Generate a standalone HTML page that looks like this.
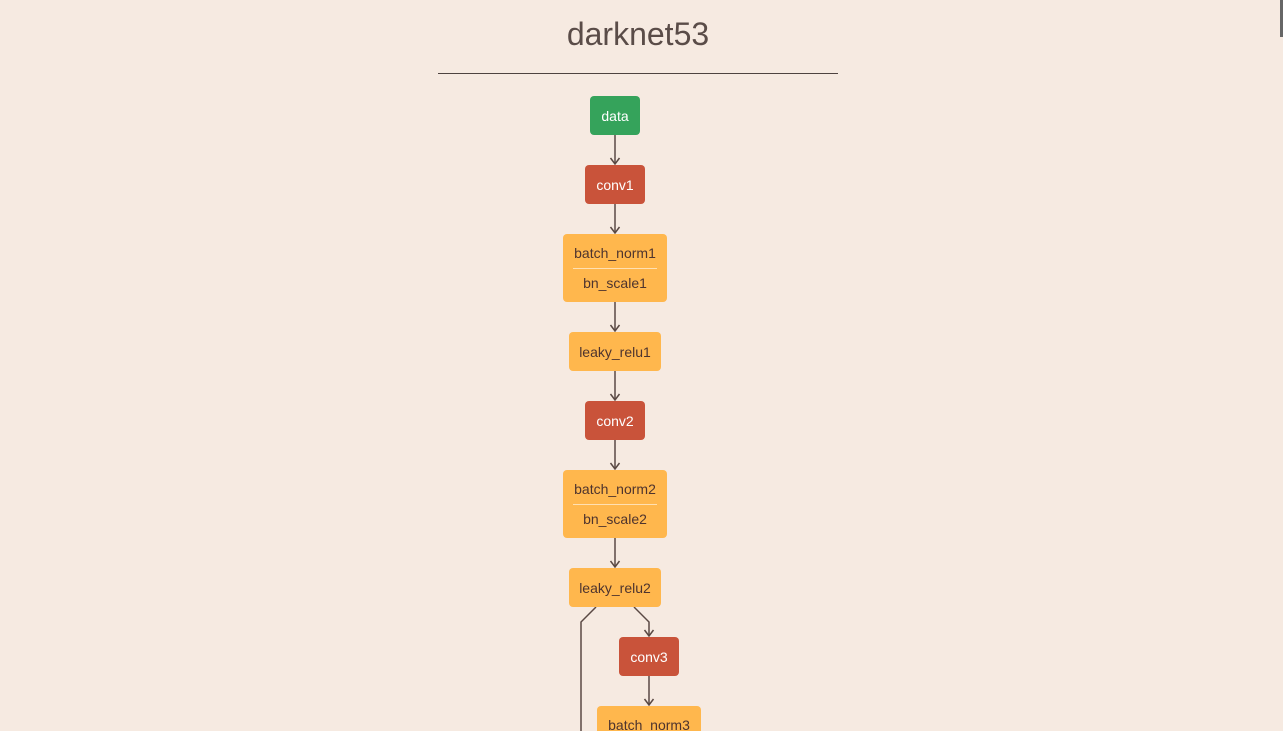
<!DOCTYPE html>
<html style="overflow:hidden;height:731px"><head><style>
body{margin:0;width:1283px;height:731px;background:#f6eae1;overflow:hidden;font-family:"Liberation Sans",sans-serif;position:relative}
.t{position:absolute;left:0;width:1276px;top:16px;text-align:center;font-size:32px;color:#5a4c48;font-weight:300}
.hr{position:absolute;left:438px;top:73px;width:400px;height:1px;background:#4e4340}
.n{position:absolute;border-radius:4px;font-size:14px;text-align:center;box-sizing:border-box}
.g{background:#35a35b;color:#fff;line-height:40px}
.r{background:#c9533a;color:#fff;line-height:40px}
.o{background:#ffb74d;color:#4e342e;line-height:40px}
.b{background:#ffb74d;color:#4e342e;line-height:29px;padding-top:5px}
.b i{display:block;height:1px;background:#ffe0b2;margin:0 10px;font-style:normal}
.sb{position:absolute;left:1280px;top:0;width:3px;height:37px;background:#666}
</style></head><body>
<div class="t">darknet53</div>
<div class="hr"></div>
<svg width="1283" height="731" style="position:absolute;left:0;top:0">
<defs><marker id="a" markerWidth="12" markerHeight="12" refX="9" refY="6" orient="auto" markerUnits="userSpaceOnUse"><path d="M3,1.5 L9,6 L3,10.5" fill="none" stroke="#5a4944" stroke-width="1.5"/></marker></defs>
<g stroke="#5a4944" stroke-width="1.5" fill="none">
<path d="M615 135V164" marker-end="url(#a)"/>
<path d="M615 204V233" marker-end="url(#a)"/>
<path d="M615 302V331" marker-end="url(#a)"/>
<path d="M615 371V400" marker-end="url(#a)"/>
<path d="M615 440V469" marker-end="url(#a)"/>
<path d="M615 538V567" marker-end="url(#a)"/>
<path d="M634 607L649 622V636" marker-end="url(#a)"/>
<path d="M649 676V705" marker-end="url(#a)"/>
<path d="M596 607L581 622V731"/>
</g></svg>
<div class="n g" style="left:590px;top:96px;width:50px;height:39px">data</div>
<div class="n r" style="left:585px;top:165px;width:60px;height:39px">conv1</div>
<div class="n b" style="left:563px;top:234px;width:104px;height:68px">batch_norm1<i></i>bn_scale1</div>
<div class="n o" style="left:569px;top:332px;width:92px;height:39px">leaky_relu1</div>
<div class="n r" style="left:585px;top:401px;width:60px;height:39px">conv2</div>
<div class="n b" style="left:563px;top:470px;width:104px;height:68px">batch_norm2<i></i>bn_scale2</div>
<div class="n o" style="left:569px;top:568px;width:92px;height:39px">leaky_relu2</div>
<div class="n r" style="left:619px;top:637px;width:60px;height:39px">conv3</div>
<div class="n b" style="left:597px;top:706px;width:104px;height:25px;border-radius:4px 4px 0 0;overflow:hidden">batch_norm3</div>
<div class="sb"></div>
</body></html>
